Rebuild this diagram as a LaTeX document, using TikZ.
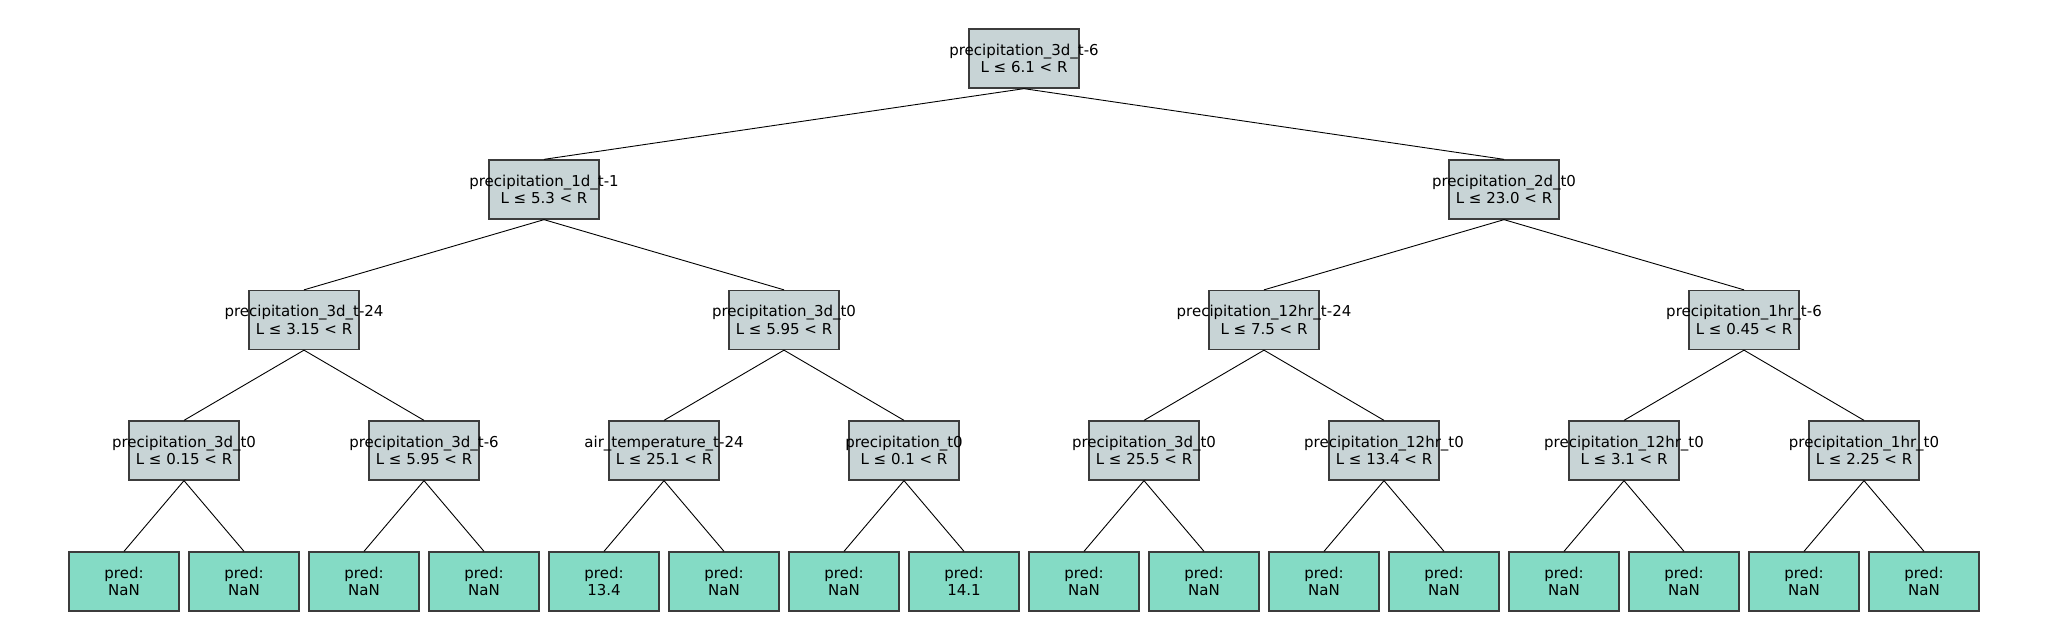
\documentclass[tikz,border=0pt]{standalone}
\usepackage{fontspec}
\setmainfont{DejaVu Sans}
\definecolor{splitfill}{HTML}{C8D4D6}
\definecolor{leaffill}{HTML}{84DBC5}
\definecolor{boxline}{HTML}{3C3C3C}
\newcommand{\twoline}[2]{\makebox[0pt]{#1}\\\makebox[0pt]{#2}}
\tikzset{
  basebox/.style={draw=boxline, line width=1.3pt, minimum width=110pt, minimum height=59pt,
    inner sep=0pt, align=center, font=\fontsize{15}{17.2}\selectfont},
  splitbox/.style={basebox, fill=splitfill},
  leafbox/.style={basebox, fill=leaffill},
  edge/.style={draw=black, line width=0.9pt}
}
\begin{document}
\begin{tikzpicture}[x=1pt, y=-1pt]
\useasboundingbox (0,0) rectangle (2048,640);
% level 1
\node[splitbox] (r) at (1024,58.5) {\twoline{precipitation\_3d\_t-6}{L ≤ 6.1 < R}};
% level 2
\node[splitbox] (a) at (544,189.5) {\twoline{precipitation\_1d\_t-1}{L ≤ 5.3 < R}};
\node[splitbox] (b) at (1504,189.5) {\twoline{precipitation\_2d\_t0}{L ≤ 23.0 < R}};
% level 3
\node[splitbox] (aa) at (304,320) {\twoline{precipitation\_3d\_t-24}{L ≤ 3.15 < R}};
\node[splitbox] (ab) at (784,320) {\twoline{precipitation\_3d\_t0}{L ≤ 5.95 < R}};
\node[splitbox] (ba) at (1264,320) {\twoline{precipitation\_12hr\_t-24}{L ≤ 7.5 < R}};
\node[splitbox] (bb) at (1744,320) {\twoline{precipitation\_1hr\_t-6}{L ≤ 0.45 < R}};
% level 4
\node[splitbox] (c1) at (184,450.5) {\twoline{precipitation\_3d\_t0}{L ≤ 0.15 < R}};
\node[splitbox] (c2) at (424,450.5) {\twoline{precipitation\_3d\_t-6}{L ≤ 5.95 < R}};
\node[splitbox] (c3) at (664,450.5) {\twoline{air\_temperature\_t-24}{L ≤ 25.1 < R}};
\node[splitbox] (c4) at (904,450.5) {\twoline{precipitation\_t0}{L ≤ 0.1 < R}};
\node[splitbox] (c5) at (1144,450.5) {\twoline{precipitation\_3d\_t0}{L ≤ 25.5 < R}};
\node[splitbox] (c6) at (1384,450.5) {\twoline{precipitation\_12hr\_t0}{L ≤ 13.4 < R}};
\node[splitbox] (c7) at (1624,450.5) {\twoline{precipitation\_12hr\_t0}{L ≤ 3.1 < R}};
\node[splitbox] (c8) at (1864,450.5) {\twoline{precipitation\_1hr\_t0}{L ≤ 2.25 < R}};
% leaves
\node[leafbox] (l1) at (124,581.5) {pred:\\NaN};
\node[leafbox] (l2) at (244,581.5) {pred:\\NaN};
\node[leafbox] (l3) at (364,581.5) {pred:\\NaN};
\node[leafbox] (l4) at (484,581.5) {pred:\\NaN};
\node[leafbox] (l5) at (604,581.5) {pred:\\13.4};
\node[leafbox] (l6) at (724,581.5) {pred:\\NaN};
\node[leafbox] (l7) at (844,581.5) {pred:\\NaN};
\node[leafbox] (l8) at (964,581.5) {pred:\\14.1};
\node[leafbox] (l9) at (1084,581.5) {pred:\\NaN};
\node[leafbox] (l10) at (1204,581.5) {pred:\\NaN};
\node[leafbox] (l11) at (1324,581.5) {pred:\\NaN};
\node[leafbox] (l12) at (1444,581.5) {pred:\\NaN};
\node[leafbox] (l13) at (1564,581.5) {pred:\\NaN};
\node[leafbox] (l14) at (1684,581.5) {pred:\\NaN};
\node[leafbox] (l15) at (1804,581.5) {pred:\\NaN};
\node[leafbox] (l16) at (1924,581.5) {pred:\\NaN};
% edges
\foreach \p/\c in {r/a, r/b, a/aa, a/ab, b/ba, b/bb,
  aa/c1, aa/c2, ab/c3, ab/c4, ba/c5, ba/c6, bb/c7, bb/c8,
  c1/l1, c1/l2, c2/l3, c2/l4, c3/l5, c3/l6, c4/l7, c4/l8,
  c5/l9, c5/l10, c6/l11, c6/l12, c7/l13, c7/l14, c8/l15, c8/l16}
  \draw[edge] (\p.south) -- (\c.north);
\end{tikzpicture}
\end{document}
